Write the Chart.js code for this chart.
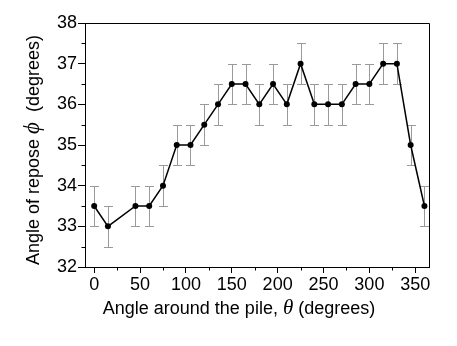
<!DOCTYPE html>
<html>
<head>
<meta charset="utf-8">
<script src="https://cdn.jsdelivr.net/npm/chart.js@4.4.1/dist/chart.umd.min.js"></script>
<style>
  html, body { margin: 0; padding: 0; background: #fff; }
  #wrap { width: 457px; height: 346px; }
</style>
</head>
<body>
<div id="wrap"><canvas id="c" width="457" height="346"></canvas></div>
<script>
// angle around the pile (deg) vs angle of repose (deg), error +/- 0.5
const angles = [0, 15, 45, 60, 75, 90, 105, 120, 135, 150, 165, 180, 195, 210, 225, 240, 255, 270, 285, 300, 315, 330, 345, 360];
const repose = [33.5, 33, 33.5, 33.5, 34, 35, 35, 35.5, 36, 36.5, 36.5, 36, 36.5, 36, 37, 36, 36, 36, 36.5, 36.5, 37, 37, 35, 33.5];
const errors = [0.5, 0.5, 0.5, 0.5, 0.5, 0.5, 0.5, 0.5, 0.5, 0.5, 0.5, 0.5, 0.5, 0.5, 0.5, 0.5, 0.5, 0.5, 0.5, 0.5, 0.5, 0.5, 0.5, 0.5];

const xTicks = [0, 50, 100, 150, 200, 250, 300, 350];
const xMinor = [25, 75, 125, 175, 225, 275, 325];
const yTicks = [32, 33, 34, 35, 36, 37, 38];
const yMinor = [32.5, 33.5, 34.5, 35.5, 36.5, 37.5];

const SANS = '"Liberation Sans", Arial, sans-serif';
const SERIF = '"Liberation Serif", "DejaVu Serif", serif';

// error bars under the points
const errorBars = {
  id: 'errorBars',
  beforeDatasetsDraw(chart) {
    const { ctx, scales: { x, y } } = chart;
    ctx.save();
    ctx.strokeStyle = '#9a9a9a';
    ctx.lineWidth = 1;
    angles.forEach((a, i) => {
      const px = Math.round(x.getPixelForValue(a)) + 0.5;
      const top = Math.round(y.getPixelForValue(repose[i] + errors[i])) + 0.5;
      const bot = Math.round(y.getPixelForValue(repose[i] - errors[i])) + 0.5;
      ctx.beginPath();
      ctx.moveTo(px, top); ctx.lineTo(px, bot);
      ctx.moveTo(px - 4.5, top); ctx.lineTo(px + 4.5, top);
      ctx.moveTo(px - 4.5, bot); ctx.lineTo(px + 4.5, bot);
      ctx.stroke();
    });
    ctx.restore();
  }
};

// frame, minor ticks and axis titles
const decor = {
  id: 'decor',
  afterDraw(chart) {
    const { ctx, chartArea: ca, scales: { x, y } } = chart;
    ctx.save();
    ctx.strokeStyle = '#000';
    ctx.lineWidth = 1;
    ctx.beginPath();
    ctx.moveTo(ca.left, ca.top + 0.5); ctx.lineTo(ca.right + 0.5, ca.top + 0.5);
    ctx.lineTo(ca.right + 0.5, ca.bottom);
    xMinor.forEach(v => {
      const px = Math.round(x.getPixelForValue(v)) + 0.5;
      ctx.moveTo(px, ca.bottom); ctx.lineTo(px, ca.bottom + 3.5);
    });
    yMinor.forEach(v => {
      const py = Math.round(y.getPixelForValue(v)) + 0.5;
      ctx.moveTo(ca.left, py); ctx.lineTo(ca.left - 3.5, py);
    });
    ctx.stroke();

    ctx.fillStyle = '#000';
    ctx.textBaseline = 'alphabetic';
    const drawParts = (parts, cx, cy) => {
      let w = 0;
      parts.forEach(p => { ctx.font = p[1]; w += ctx.measureText(p[0]).width; });
      let cur = cx - w / 2;
      parts.forEach(p => {
        ctx.font = p[1];
        ctx.fillText(p[0], cur, cy);
        cur += ctx.measureText(p[0]).width;
      });
    };
    drawParts([
      ['Angle around the pile, ', '18px ' + SANS],
      ['\u03B8', 'italic 21px ' + SERIF],
      [' (degrees)', '18px ' + SANS]
    ], 239, 314);

    ctx.translate(39, 150);
    ctx.rotate(-Math.PI / 2);
    drawParts([
      ['Angle of repose ', '18px ' + SANS],
      ['\u03D5', 'italic 23px ' + SERIF],
      ['  (degrees)', '18px ' + SANS]
    ], 0, 0);
    ctx.restore();
  }
};

new Chart(document.getElementById('c'), {
  type: 'scatter',
  data: {
    datasets: [{
      data: angles.map((a, i) => ({ x: a, y: repose[i] })),
      showLine: true,
      borderColor: '#000',
      borderWidth: 1.5,
      backgroundColor: '#000',
      pointRadius: 3,
      pointBorderWidth: 0
    }]
  },
  options: {
    responsive: false,
    animation: false,
    layout: { padding: { top: 23, right: 28, left: 0, bottom: 0 } },
    plugins: { legend: { display: false }, tooltip: { enabled: false } },
    scales: {
      x: {
        type: 'linear',
        min: -10, max: 365,
        afterBuildTicks: s => { s.ticks = xTicks.map(v => ({ value: v })); },
        afterFit: s => { s.height = 79; },
        grid: { drawOnChartArea: false, tickLength: 6, color: '#000' },
        border: { color: '#000', width: 1 },
        ticks: { color: '#000', font: { family: SANS, size: 18 }, padding: 1, maxRotation: 0 }
      },
      y: {
        min: 32, max: 38,
        afterBuildTicks: s => { s.ticks = yTicks.map(v => ({ value: v })); },
        afterFit: s => { s.width = 85; },
        grid: { drawOnChartArea: false, tickLength: 7, color: '#000' },
        border: { color: '#000', width: 1 },
        ticks: { color: '#000', font: { family: SANS, size: 18 }, padding: 1 }
      }
    }
  },
  plugins: [errorBars, decor]
});
</script>
</body>
</html>
